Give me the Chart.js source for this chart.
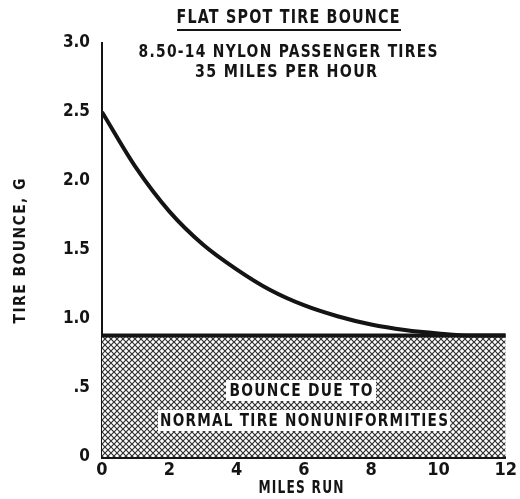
<!DOCTYPE html>
<html lang="en">
<head>
    <meta charset="UTF-8">
    <title>Flat Spot Tire Bounce</title>
    <style>
        html, body { margin: 0; padding: 0; background: #fff; }
        canvas { display: block; }
    </style>
</head>
<body>
<canvas id="bounce-chart" width="520" height="499"></canvas>

<script src="https://cdn.jsdelivr.net/npm/chart.js@4/dist/chart.umd.min.js"></script>
<script>
    // Values
    const milesRun = [0, 1, 2, 3, 4, 5, 6, 7, 8, 9, 10, 11, 12];
    const bounceG = [2.50, 2.10, 1.78, 1.54, 1.36, 1.21, 1.10, 1.02, 0.96, 0.92, 0.895, 0.88, 0.88];
    const normalMiles = [0, 12];
    const normalBounce = [0.88, 0.88];
    const yTickLabels = ['0', '.5', '1.0', '1.5', '2.0', '2.5', '3.0'];
    const xTickLabels = ['0', '2', '4', '6', '8', '10', '12'];

    const ink = '#141414';
    const face = '"DejaVu Sans Condensed", "DejaVu Sans", sans-serif';

    // Crosshatch fill for the "normal" region
    function makeHatch() {
        let tile = document.createElement('canvas');
        tile.width = 6;
        tile.height = 6;
        let c = tile.getContext('2d');
        c.fillStyle = '#fff';
        c.fillRect(0, 0, 6, 6);
        c.strokeStyle = '#303030';
        c.lineWidth = 1.2;
        c.beginPath();
        c.moveTo(-1, -1); c.lineTo(7, 7);
        c.moveTo(7, -1); c.lineTo(-1, 7);
        c.stroke();
        return c.createPattern(tile, 'repeat');
    }

    // Draws spaced, squeezed caps text to a given width, centred on cx
    function fitText(ctx, text, cx, cy, size, width) {
        ctx.save();
        ctx.font = 'bold ' + size + 'px ' + face;
        ctx.letterSpacing = '1.5px';
        let w = ctx.measureText(text).width - 1.5;
        ctx.translate(cx - width / 2, cy);
        ctx.scale(width / w, 1);
        ctx.textAlign = 'left';
        ctx.textBaseline = 'middle';
        ctx.fillStyle = ink;
        ctx.fillText(text, 0, 0);
        ctx.restore();
    }

    const textPlugin = {
        id: 'scanText',
        afterDatasetsDraw(chart) {
            let ctx = chart.ctx;
            // labels inside the hatched area sit on white boxes
            ctx.save();
            ctx.fillStyle = '#fff';
            ctx.fillRect(226, 380, 150, 21);
            ctx.fillRect(158, 410, 292, 21);
            ctx.restore();
            fitText(ctx, 'BOUNCE DUE TO', 301, 391, 18, 143);
            fitText(ctx, 'NORMAL TIRE NONUNIFORMITIES', 304, 421, 18, 288);
        },
        afterDraw(chart) {
            let ctx = chart.ctx;
            fitText(ctx, 'FLAT SPOT TIRE BOUNCE', 288, 18, 20, 223);
            ctx.save();
            ctx.fillStyle = ink;
            ctx.fillRect(177, 29, 224, 2);
            ctx.restore();
            fitText(ctx, '8.50-14 NYLON PASSENGER TIRES', 288, 52, 18, 299);
            fitText(ctx, '35 MILES PER HOUR', 286, 72, 18, 182);
            fitText(ctx, 'MILES RUN', 301, 489, 17, 85);

            ctx.save();
            ctx.translate(21, 251);
            ctx.rotate(-Math.PI / 2);
            fitText(ctx, 'TIRE BOUNCE, G', 0, 0, 16, 145);
            ctx.restore();
        }
    };

    let context = document.getElementById('bounce-chart');
    new Chart(context, {
        type: 'line',
        data: {
            datasets: [{
                data: milesRun.map((m, i) => ({ x: m, y: bounceG[i] })),
                borderColor: ink,
                borderWidth: 4,
                pointRadius: 0,
                cubicInterpolationMode: 'monotone',
                fill: false,
                order: 0
            }, {
                data: normalMiles.map((m, i) => ({ x: m, y: normalBounce[i] })),
                borderColor: ink,
                borderWidth: 4,
                pointRadius: 0,
                backgroundColor: makeHatch(),
                fill: 'origin',
                order: 1
            }]
        },
        options: {
            responsive: false,
            animation: false,
            layout: { padding: { top: 43, right: 0, left: 0, bottom: 0 } },
            plugins: {
                legend: { display: false },
                tooltip: { enabled: false }
            },
            scales: {
                x: {
                    type: 'linear',
                    min: 0,
                    max: 12,
                    grid: { display: false, drawTicks: false },
                    border: { display: true, color: ink, width: 3 },
                    ticks: {
                        stepSize: 2,
                        padding: 3,
                        color: ink,
                        font: { family: face, weight: 'bold', size: 18 },
                        callback: (v, i) => xTickLabels[i]
                    },
                    afterFit(scale) { scale.height = 42; }
                },
                y: {
                    min: 0,
                    max: 3,
                    grid: { display: false, drawTicks: false },
                    border: { display: true, color: ink, width: 2 },
                    ticks: {
                        stepSize: 0.5,
                        padding: 12,
                        color: ink,
                        font: { family: face, weight: 'bold', size: 17 },
                        callback: (v, i) => yTickLabels[i]
                    },
                    afterFit(scale) { scale.width = 102; }
                }
            }
        },
        plugins: [textPlugin]
    });
</script>
</body>
</html>
